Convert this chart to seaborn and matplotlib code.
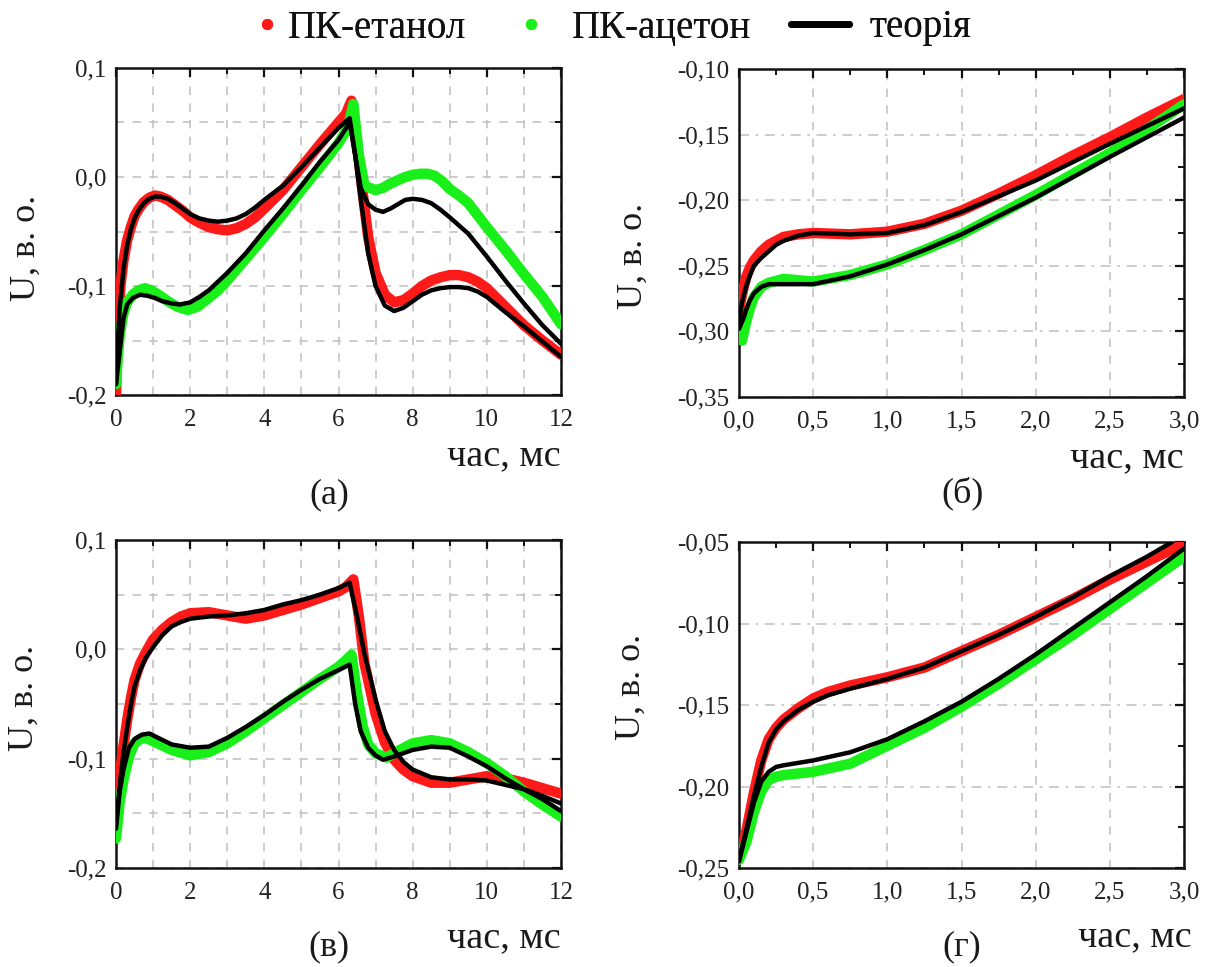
import matplotlib
matplotlib.use("Agg")
import matplotlib.pyplot as plt
import seaborn as sns
from matplotlib.lines import Line2D
from matplotlib.ticker import FixedLocator, FixedFormatter, MultipleLocator

# ---------------- data ----------------
labels_series = ["ПК-етанол", "ПК-ацетон", "теорія"]
panel_tags = ["(а)", "(б)", "(в)", "(г)"]
x_label = "час, мс"
y_label = "U, в. о."

# panel (а)
a_eth_x = [0, 0.03, 0.07, 0.12, 0.2, 0.3, 0.4, 0.5, 0.6, 0.75, 0.9, 1.05, 1.2, 1.4, 1.6, 1.8, 2.0, 2.25, 2.5,
           2.75, 3.0, 3.25, 3.5, 3.75, 4.0, 4.5, 5.0, 5.5, 6.0, 6.2, 6.35, 6.5, 6.6, 6.8, 7.0, 7.25, 7.5, 7.75,
           8.0, 8.25, 8.5, 8.75, 9.0, 9.25, 9.5, 9.75, 10.0, 10.5, 11.0, 11.5, 12.0]
a_eth_y = [-0.2, -0.165, -0.13, -0.1, -0.077, -0.058, -0.046, -0.036, -0.03, -0.023, -0.019, -0.017, -0.018,
           -0.021, -0.026, -0.031, -0.037, -0.042, -0.046, -0.048, -0.049, -0.047, -0.043, -0.037, -0.029,
           -0.012, 0.009, 0.03, 0.05, 0.058, 0.07, 0.03, 0.0, -0.055, -0.088, -0.108, -0.115, -0.113, -0.107,
           -0.1, -0.095, -0.092, -0.09, -0.09, -0.092, -0.096, -0.102, -0.119, -0.136, -0.15, -0.163]
a_ace_x = [0, 0.05, 0.1, 0.2, 0.3, 0.45, 0.6, 0.78, 0.95, 1.15, 1.4, 1.65, 1.94, 2.2, 2.5, 2.75, 3.0, 3.5, 4.0,
           4.5, 5.0, 5.5, 6.0, 6.25, 6.4, 6.55, 6.7, 7.0, 7.2, 7.4, 7.6, 7.8, 8.0, 8.2, 8.4, 8.6, 8.8, 9.0,
           9.25, 9.5, 9.75, 10.0, 10.5, 11.0, 11.5, 12.0]
a_ace_y = [-0.19, -0.165, -0.145, -0.125, -0.115, -0.108, -0.104, -0.102, -0.104, -0.108, -0.114, -0.119,
           -0.122, -0.119, -0.111, -0.104, -0.095, -0.075, -0.055, -0.034, -0.012, 0.009, 0.031, 0.045, 0.067,
           0.02, -0.008, -0.012, -0.01, -0.006, -0.003, 0.0, 0.002, 0.003, 0.003, 0.001, -0.004, -0.011,
           -0.017, -0.024, -0.035, -0.046, -0.067, -0.089, -0.11, -0.135]
a_th_eth_x = [0, 0.05, 0.1, 0.2, 0.3, 0.4, 0.5, 0.6, 0.75, 0.9, 1.05, 1.2, 1.4, 1.6, 1.8, 2.0, 2.25, 2.5, 2.75,
              3.0, 3.25, 3.5, 3.75, 4.0, 4.5, 5.0, 5.5, 6.0, 6.3, 6.45, 6.6, 6.8, 7.0, 7.25, 7.5, 7.75, 8.0,
              8.25, 8.5, 8.75, 9.0, 9.25, 9.5, 9.75, 10.0, 10.5, 11.0, 11.5, 12.0]
a_th_eth_y = [-0.19, -0.15, -0.12, -0.085, -0.063, -0.048, -0.038, -0.031, -0.024, -0.02, -0.018, -0.018,
              -0.02, -0.024, -0.029, -0.034, -0.038, -0.04, -0.041, -0.04, -0.038, -0.034, -0.028, -0.021,
              -0.008, 0.009, 0.027, 0.045, 0.054, 0.02, -0.02, -0.07, -0.1, -0.118, -0.123, -0.12, -0.114,
              -0.108, -0.104, -0.102, -0.101, -0.101, -0.102, -0.105, -0.11, -0.124, -0.137, -0.151, -0.165]
a_th_ace_x = [0, 0.1, 0.2, 0.3, 0.45, 0.65, 0.85, 1.05, 1.25, 1.5, 1.72, 2.0, 2.25, 2.5, 3.0, 3.5, 4.0, 4.5, 5.0,
              5.5, 6.0, 6.3, 6.45, 6.6, 6.8, 7.0, 7.2, 7.4, 7.6, 7.8, 8.0, 8.25, 8.5, 8.75, 9.0, 9.5, 10.0, 10.5,
              11.0, 11.5, 12.0]
a_th_ace_y = [-0.19, -0.16, -0.13, -0.117, -0.111, -0.108, -0.109, -0.111, -0.114, -0.116, -0.117, -0.115,
              -0.11, -0.104, -0.088, -0.07, -0.049, -0.029, -0.008, 0.014, 0.034, 0.05, 0.02, -0.01, -0.025,
              -0.03, -0.032, -0.029, -0.025, -0.021, -0.02, -0.021, -0.024, -0.03, -0.037, -0.052, -0.073,
              -0.095, -0.116, -0.136, -0.153]

# panel (б)
b_eth_x = [0, 0.02, 0.05, 0.075, 0.1, 0.15, 0.2, 0.25, 0.3, 0.4, 0.5, 0.75, 1.0, 1.25, 1.5, 1.75, 2.0, 2.25,
           2.5, 2.75, 3.0]
b_eth_y = [-0.285, -0.272, -0.258, -0.251, -0.246, -0.239, -0.234, -0.231, -0.228, -0.226, -0.225, -0.226,
           -0.224, -0.218, -0.208, -0.195, -0.181, -0.166, -0.152, -0.137, -0.123]
b_ace_x = [0, 0.02, 0.05, 0.075, 0.1, 0.15, 0.2, 0.3, 0.5, 0.75, 1.0, 1.25, 1.5, 1.75, 2.0, 2.25, 2.5, 2.75,
           3.0]
b_ace_y = [-0.3, -0.307, -0.292, -0.282, -0.274, -0.266, -0.263, -0.26, -0.262, -0.257, -0.249, -0.238,
           -0.226, -0.211, -0.196, -0.18, -0.164, -0.146, -0.127]
b_th_eth_x = [0, 0.02, 0.05, 0.075, 0.1, 0.15, 0.2, 0.25, 0.3, 0.4, 0.5, 0.75, 1.0, 1.25, 1.5, 1.75, 2.0, 2.5,
              3.0]
b_th_eth_y = [-0.292, -0.278, -0.265, -0.257, -0.25, -0.244, -0.239, -0.234, -0.231, -0.227, -0.225, -0.226,
              -0.225, -0.219, -0.209, -0.197, -0.185, -0.157, -0.13]
b_th_ace_x = [0, 0.03, 0.05, 0.075, 0.1, 0.15, 0.2, 0.3, 0.5, 0.75, 1.0, 1.25, 1.5, 1.75, 2.0, 2.5, 3.0]
b_th_ace_y = [-0.298, -0.29, -0.283, -0.276, -0.271, -0.266, -0.264, -0.264, -0.264, -0.258, -0.249, -0.238,
              -0.226, -0.212, -0.198, -0.167, -0.137]

# panel (в)
c_eth_x = [0, 0.1, 0.2, 0.3, 0.4, 0.5, 0.65, 0.8, 1.0, 1.25, 1.5, 1.75, 2.0, 2.5, 3.0, 3.5, 4.0, 4.5, 5.0, 5.5,
           6.0, 6.2, 6.4, 6.55, 6.7, 7.0, 7.25, 7.5, 7.75, 8.0, 8.5, 9.0, 9.5, 10.0, 10.5, 11.0, 11.5, 12.0]
c_eth_y = [-0.15, -0.115, -0.089, -0.065, -0.045, -0.028, -0.013, -0.003, 0.009, 0.018, 0.025, 0.03, 0.033,
           0.034, 0.031, 0.028, 0.031, 0.036, 0.041, 0.047, 0.053, 0.057, 0.064, 0.03, -0.013, -0.059, -0.085,
           -0.101, -0.11, -0.116, -0.122, -0.122, -0.119, -0.116, -0.118, -0.122, -0.127, -0.132]
c_ace_x = [0, 0.1, 0.2, 0.35, 0.5, 0.65, 0.8, 1.0, 1.25, 1.5, 2.0, 2.5, 3.0, 3.5, 4.0, 4.5, 5.0, 5.5, 6.0, 6.2,
           6.35, 6.5, 6.65, 6.8, 7.0, 7.3, 7.6, 8.0, 8.5, 9.0, 9.5, 10.0, 10.5, 11.0, 11.5, 12.0]
c_ace_y = [-0.173, -0.14, -0.12, -0.098, -0.086, -0.082, -0.081, -0.084, -0.088, -0.092, -0.097, -0.094,
           -0.086, -0.075, -0.063, -0.051, -0.039, -0.027, -0.016, -0.01, -0.005, -0.04, -0.07, -0.087, -0.095,
           -0.099, -0.093, -0.086, -0.083, -0.086, -0.094, -0.104, -0.116, -0.13, -0.142, -0.153]
c_th_eth_x = [0, 0.1, 0.2, 0.3, 0.4, 0.5, 0.65, 0.8, 1.0, 1.25, 1.5, 1.75, 2.0, 2.5, 3.0, 3.5, 4.0, 4.5, 5.0,
              5.5, 6.0, 6.3, 6.5, 6.7, 7.0, 7.25, 7.5, 7.75, 8.0, 8.5, 9.0, 9.5, 10.0, 10.5, 11.0, 11.5, 12.0]
c_th_eth_y = [-0.16, -0.125, -0.095, -0.072, -0.051, -0.034, -0.019, -0.008, 0.002, 0.013, 0.021, 0.025,
              0.028, 0.03, 0.031, 0.033, 0.036, 0.041, 0.045, 0.05, 0.056, 0.061, 0.03, -0.004, -0.046,
              -0.075, -0.092, -0.103, -0.11, -0.117, -0.119, -0.119, -0.12, -0.124, -0.128, -0.134, -0.141]
c_th_ace_x = [0, 0.1, 0.2, 0.35, 0.5, 0.7, 0.9, 1.2, 1.5, 2.0, 2.5, 3.0, 3.5, 4.0, 4.5, 5.0, 5.5, 6.0, 6.3, 6.45,
              6.6, 6.8, 7.0, 7.2, 7.5, 8.0, 8.5, 9.0, 9.5, 10.0, 10.5, 11.0, 11.5, 12.0]
c_th_ace_y = [-0.164, -0.13, -0.11, -0.09, -0.082, -0.078, -0.077, -0.082, -0.087, -0.09, -0.089, -0.081,
              -0.071, -0.06, -0.048, -0.037, -0.027, -0.019, -0.014, -0.05, -0.075, -0.09, -0.097, -0.101,
              -0.098, -0.092, -0.089, -0.09, -0.098, -0.107, -0.118, -0.128, -0.137, -0.148]

# panel (г)
d_eth_x = [0, 0.03, 0.05, 0.1, 0.15, 0.2, 0.25, 0.3, 0.4, 0.5, 0.6, 0.75, 1.0, 1.25, 1.5, 1.75, 2.0, 2.25, 2.5,
           2.75, 3.0]
d_eth_y = [-0.243, -0.235, -0.227, -0.204, -0.184, -0.171, -0.164, -0.159, -0.152, -0.146, -0.142, -0.138,
           -0.133, -0.127, -0.117, -0.107, -0.096, -0.085, -0.073, -0.062, -0.051]
d_ace_x = [0, 0.05, 0.1, 0.15, 0.2, 0.25, 0.3, 0.5, 0.75, 1.0, 1.25, 1.5, 1.75, 2.0, 2.25, 2.5, 2.75, 3.0]
d_ace_y = [-0.245, -0.234, -0.216, -0.203, -0.196, -0.194, -0.193, -0.191, -0.186, -0.175, -0.164, -0.151,
           -0.137, -0.122, -0.107, -0.091, -0.075, -0.059]
d_th_eth_x = [0, 0.05, 0.1, 0.15, 0.2, 0.25, 0.3, 0.4, 0.5, 0.6, 0.75, 1.0, 1.25, 1.5, 1.75, 2.0, 2.25, 2.5,
              2.75, 2.92]
d_th_eth_y = [-0.245, -0.226, -0.206, -0.188, -0.173, -0.165, -0.16, -0.153, -0.148, -0.144, -0.14, -0.134,
              -0.127, -0.117, -0.107, -0.096, -0.084, -0.071, -0.059, -0.05]
d_th_ace_x = [0, 0.05, 0.1, 0.15, 0.2, 0.25, 0.3, 0.5, 0.75, 1.0, 1.25, 1.5, 1.75, 2.0, 2.25, 2.5, 2.75, 3.0]
d_th_ace_y = [-0.246, -0.228, -0.21, -0.197, -0.191, -0.188, -0.187, -0.184, -0.179, -0.171, -0.16, -0.148,
              -0.134, -0.119, -0.103, -0.087, -0.071, -0.054]

# ticks
long_xticks = [0, 2, 4, 6, 8, 10, 12]
long_xticklabels = ["0", "2", "4", "6", "8", "10", "12"]
long_yticks = [-0.2, -0.1, 0.0, 0.1]
long_yticklabels = ["-0,2", "-0,1", "0,0", "0,1"]
short_xticks = [0.0, 0.5, 1.0, 1.5, 2.0, 2.5, 3.0]
short_xticklabels = ["0,0", "0,5", "1,0", "1,5", "2,0", "2,5", "3,0"]
b_yticks = [-0.35, -0.30, -0.25, -0.20, -0.15, -0.10]
b_yticklabels = ["-0,35", "-0,30", "-0,25", "-0,20", "-0,15", "-0,10"]
d_yticks = [-0.25, -0.20, -0.15, -0.10, -0.05]
d_yticklabels = ["-0,25", "-0,20", "-0,15", "-0,10", "-0,05"]

RED = "#ff1a1a"
GREEN = "#19f019"
BLACK = "#000000"

# ---------------- style ----------------
sns.set_theme(style="white")
plt.rcParams["font.family"] = ["Liberation Serif", "DejaVu Serif"]
plt.rcParams["axes.linewidth"] = 1.8

fig = plt.figure(figsize=(12.12, 9.67), dpi=100)
W, H = 1212, 967


def make_ax(l, r, t, b):
    return fig.add_axes([l / W, 1 - b / H, (r - l) / W, (b - t) / H])


ax_a = make_ax(116, 561, 68, 395)
ax_b = make_ax(739, 1184, 69, 397)
ax_c = make_ax(116, 561, 540, 868)
ax_d = make_ax(739, 1184, 542, 868)

panels = [
    (ax_a, (a_eth_x, a_eth_y), (a_ace_x, a_ace_y), (a_th_eth_x, a_th_eth_y), (a_th_ace_x, a_th_ace_y)),
    (ax_b, (b_eth_x, b_eth_y), (b_ace_x, b_ace_y), (b_th_eth_x, b_th_eth_y), (b_th_ace_x, b_th_ace_y)),
    (ax_c, (c_eth_x, c_eth_y), (c_ace_x, c_ace_y), (c_th_eth_x, c_th_eth_y), (c_th_ace_x, c_th_ace_y)),
    (ax_d, (d_eth_x, d_eth_y), (d_ace_x, d_ace_y), (d_th_eth_x, d_th_eth_y), (d_th_ace_x, d_th_ace_y)),
]

for ax, eth, ace, th_eth, th_ace in panels:
    sns.lineplot(x=eth[0], y=eth[1], ax=ax, color=RED, lw=7.5, sort=False, estimator=None,
                 solid_capstyle="round", solid_joinstyle="round", zorder=3)
    sns.lineplot(x=ace[0], y=ace[1], ax=ax, color=GREEN, lw=7.5, sort=False, estimator=None,
                 solid_capstyle="round", solid_joinstyle="round", zorder=3)
    for th in (th_eth, th_ace):
        sns.lineplot(x=th[0], y=th[1], ax=ax, color=BLACK, lw=3.2, sort=False, estimator=None,
                     solid_capstyle="round", solid_joinstyle="round", zorder=4)

grid_kw = dict(color="#c4c4c4", lw=1.2)
dash = (0, (5, 5))
dashdot = (0, (6, 4, 1.5, 4))

# long panels
for ax in (ax_a, ax_c):
    ax.set_xlim(0, 12)
    ax.set_ylim(-0.2, 0.1)
    ax.xaxis.set_major_locator(FixedLocator(long_xticks))
    ax.xaxis.set_major_formatter(FixedFormatter(long_xticklabels))
    ax.yaxis.set_major_locator(FixedLocator(long_yticks))
    ax.yaxis.set_major_formatter(FixedFormatter(long_yticklabels))
    ax.xaxis.set_minor_locator(MultipleLocator(1))
    ax.yaxis.set_minor_locator(MultipleLocator(0.05))
    ax.grid(True, which="both", axis="both", linestyle=dash, **grid_kw)

# short panels
for ax, yt, ytl, ylim in ((ax_b, b_yticks, b_yticklabels, (-0.35, -0.10)),
                          (ax_d, d_yticks, d_yticklabels, (-0.25, -0.05))):
    ax.set_xlim(0, 3)
    ax.set_ylim(*ylim)
    ax.xaxis.set_major_locator(FixedLocator(short_xticks))
    ax.xaxis.set_major_formatter(FixedFormatter(short_xticklabels))
    ax.yaxis.set_major_locator(FixedLocator(yt))
    ax.yaxis.set_major_formatter(FixedFormatter(ytl))
    ax.xaxis.set_minor_locator(MultipleLocator(0.25))
    ax.yaxis.set_minor_locator(MultipleLocator(0.025))
    ax.grid(True, which="major", axis="x", linestyle=dash, **grid_kw)
    ax.grid(True, which="major", axis="y", linestyle=dashdot, **grid_kw)

ylab_pos = {ax_a: (-0.164, 0.45), ax_b: (-0.2, 0.43), ax_c: (-0.169, 0.52), ax_d: (-0.205, 0.555)}
xlab_pos = {ax_a: (1.0, -0.185), ax_b: (1.0, -0.185), ax_c: (1.0, -0.213), ax_d: (1.018, -0.21)}
tag_pos = {ax_a: (0.48, -0.306), ax_b: (0.503, -0.293), ax_c: (0.479, -0.24), ax_d: (0.50, -0.243)}

for ax, tag in zip((ax_a, ax_b, ax_c, ax_d), panel_tags):
    ax.set_axisbelow(True)
    for s in ax.spines.values():
        s.set_color("#111111")
        s.set_linewidth(1.8)
    ax.tick_params(which="both", direction="in", top=True, right=True, color="#111111",
                   labelcolor="#222222")
    ax.tick_params(which="major", length=6.5, width=1.6, labelsize=18)
    ax.tick_params(which="minor", length=4, width=1.4)
    ax.tick_params(axis="x", which="major", pad=10)
    ax.tick_params(axis="y", which="major", pad=7)
    ax.set_xlabel("")
    ax.set_ylabel(y_label, fontsize=26, color="#1a1a1a")
    ax.yaxis.set_label_coords(*ylab_pos[ax])
    ax.text(*xlab_pos[ax], x_label, transform=ax.transAxes, ha="right", va="center",
            fontsize=27.5, color="#1a1a1a")
    ax.text(*tag_pos[ax], tag, transform=ax.transAxes, ha="center", va="center",
            fontsize=26, color="#1a1a1a")

# legend (three separately placed entries)
FS = 28
px2pt = 72 / 100
ly = 1 - 28 / H


def leg(handle, label, x_px, hl_px, pad_px):
    lg = fig.legend([handle], [label], loc="center left", bbox_to_anchor=(x_px / W, ly),
                    frameon=False, fontsize=FS, borderpad=0, borderaxespad=0,
                    handlelength=hl_px * px2pt / FS, handletextpad=pad_px * px2pt / FS,
                    labelcolor="#111111")
    fig.add_artist(lg)


leg(Line2D([], [], ls="", marker="o", ms=7, color=RED), labels_series[0], 261, 12, 15)
leg(Line2D([], [], ls="", marker="o", ms=7, color=GREEN), labels_series[1], 525, 12, 35)
leg(Line2D([], [], color=BLACK, lw=5), labels_series[2], 791, 58, 20)

fig.savefig("out.png", dpi=100, facecolor="white")
